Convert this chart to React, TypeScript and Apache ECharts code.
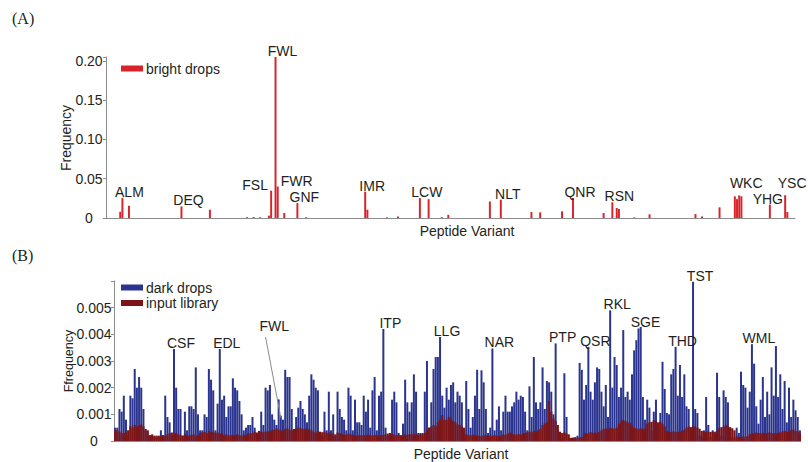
import React, { useEffect, useRef } from "react";
import * as echarts from "echarts";

// ---------- Panel A: bright drops (sparse) ----------
const N_VARIANTS = 315;
// category index of each non-zero bar, and its frequency
const brightIdx = [6, 7, 10, 34, 47, 64, 67, 70, 74, 75, 77, 78, 81, 87, 91, 118, 119, 128, 133, 143, 147, 153, 156, 175, 180, 194, 198, 208, 213, 227, 231, 233, 234, 241, 248, 269, 272, 280, 287, 288, 289, 290, 303, 310, 311];
const brightVal = [0.008, 0.0254, 0.0157, 0.0148, 0.0106, 0.001, 0.0012, 0.001, 0.003, 0.0348, 0.205, 0.04, 0.0064, 0.019, 0.001, 0.0335, 0.0106, 0.0008, 0.002, 0.0254, 0.024, 0.001, 0.004, 0.021, 0.0233, 0.0076, 0.0072, 0.0085, 0.0254, 0.0064, 0.02, 0.0127, 0.0115, 0.0008, 0.0047, 0.005, 0.002, 0.0136, 0.0276, 0.024, 0.0288, 0.0276, 0.017, 0.029, 0.0076];
const labelsA: [string, number][] = [
  ["ALM", 7], ["DEQ", 34], ["FSL", 75], ["FWL", 77], ["FWR", 78], ["GNF", 87], ["IMR", 118],
  ["LCW", 143], ["NLT", 180], ["QNR", 213], ["RSN", 231], ["WKC", 289], ["YHG", 303], ["YSC", 310],
];

// ---------- Panel B: dark drops / input library (values x 1e-4) ----------
const darkDrops_e4 = [
  5, 5, 12, 11, 17, 8, 2, 17, 16, 27, 20, 24, 20, 12, 4, 2, 1.5, 2, 1.5, 1.5, 2, 4, 2, 17, 9, 7, 2, 34.5, 20, 12, 12, 2, 11, 4, 13, 13, 12, 27.6, 10, 4, 4, 10, 9, 27, 23, 19, 4, 14, 34.5, 15.5, 17, 9, 13, 13, 23.5, 20, 19, 15, 10, 4, 5, 6,
  6, 9, 5, 2.5, 2, 11, 6, 20, 19, 21, 10, 8, 6, 15.6, 9.5, 8, 26.7, 24, 24, 12, 3, 9, 12.5, 15, 12, 10, 7, 17, 25, 23, 20, 19, 3, 2, 11, 4, 18.5, 4, 10, 2, 18.5, 12, 9, 8, 4, 20, 17, 4, 15.5, 7, 7, 6, 17, 11, 15.5, 5, 19, 24, 4, 17, 18.5, 42,
  5, 2, 2, 15.5, 18.5, 14.5, 3, 2, 6.5, 23, 14.5, 11, 14.5, 25, 18.5, 3, 3, 3, 18.5, 30, 5, 14.5, 27, 31.5, 31.5, 39, 17, 12.5, 20, 15.5, 21, 22, 14.5, 18.5, 17, 14.5, 4, 22.5, 12, 5, 9, 17, 26.7, 12, 26.5, 22, 12, 3, 5, 34.7, 4, 8, 13, 4, 11, 17, 11, 11, 13, 14.5, 18.5, 15.5,
  17, 16.5, 11, 4, 20.5, 9, 31.5, 14.5, 12, 14.5, 27.6, 12, 22.5, 22, 18.5, 10, 36.6, 4, 1, 1, 25.4, 9, 1, 1, 1, 1.5, 2, 29.3, 26.7, 15.5, 21, 35.3, 18.5, 15.5, 22, 27.6, 27, 18.5, 13, 21, 9, 49, 20, 31.5, 28.5, 16.5, 20, 41.6, 16.5, 18.5, 15.5, 25, 34, 37.8, 42.2, 42.8, 16.5, 8, 15.5, 12.5, 4, 11, 15.5, 6.5,
  10.5, 29.7, 19.5, 10.5, 10, 25, 27, 35.3, 17, 28.5, 16.5, 25, 13, 12, 4, 59.7, 12, 10.5, 2, 1.5, 4, 16.5, 6, 1.5, 4, 3.5, 25.6, 16.5, 2, 19, 16.5, 14.5, 4, 1.5, 1, 5, 3, 26, 21, 20, 12.5, 18.5, 36.3, 29, 13, 6.5, 15.5, 24, 9, 18.5, 10, 27.6, 17, 35.6, 16.5, 25, 12, 22.5, 7, 20, 9, 15.5, 11.5, 9, 4,
];
const inputLibrary_e4 = [
  4, 4, 3.5, 3, 3, 3.5, 4, 5.5, 5, 6, 5.5, 5.8, 6.2, 5.5, 4.5, 4, 2.2, 2.5, 2, 2, 1.8, 2, 2.2, 2, 2.5, 3, 3.2, 2.8, 3, 2.5,
  2.2, 2, 2.5, 2.2, 2, 2.3, 2.5, 2, 2.2, 3, 3.2, 3.5, 3, 3.7, 3.2, 3.5, 3, 3.2, 2.8, 3, 2.2, 2.5, 2, 2.2, 2.3, 2, 2.5, 2.2, 2, 2.4, 2.2,
  3, 2.8, 3, 3.5, 3.2, 3.8, 3.5, 3.3, 3.6, 3.5, 3.8, 4, 4.2, 4.7, 4.3, 4, 3.8, 4.5, 4.7, 4.2, 4, 4.5, 4.7, 5.1, 4.8, 4.5, 4.7, 4.2, 4.5, 4,
  3.5, 3.2, 3.8, 3.5, 3.3, 3.5, 3, 3.2, 2.5, 2.8, 2.5, 3.2, 3, 2.6, 2.5, 2.2, 2.8, 2.5, 2.3, 2.2, 2, 2.3, 2.1, 2.2, 2, 2.4, 2.2, 2, 2.3, 2.1, 2.2,
  2.2, 2.3, 2.5, 2.8, 3, 2.6, 2.3, 2.2, 2.4, 2.2, 2, 2.5, 2.3, 2.6, 2.4, 2.8, 2.5, 2.3, 2.6, 2.5, 3, 4, 5, 5.4, 6, 5.5, 7, 8, 9.7,
  8, 7.9, 9.1, 8.5, 7.5, 7, 6.2, 6, 5.5, 5, 2.5, 2.2, 2, 2.4, 2.2, 2, 2, 1.8, 2.2, 2, 2.1, 1.9, 2, 2.2, 2, 1.8, 2,
  2.5, 2.3, 2.8, 3.2, 2.7, 2.5, 2.4, 2.6, 2.5, 2.8, 3, 3.2, 3.5, 3.3, 3.8, 3.6, 4, 4.5, 6, 6.6, 7, 15, 11, 8.5, 7.5, 6,
  3.5, 3, 3.2, 2.8, 2.5, 1.2, 1.3, 1.2, 1.1, 1.4, 1.5, 2.5, 3, 2.8, 3.3, 3, 3.2, 3, 3.4, 4, 4.5, 4.7, 4.3, 5, 4.8, 4.6, 5,
  6.5, 7.2, 7.9, 7.5, 7, 6.8, 6, 5, 4.7, 4.5, 4.8, 4.4, 4.7, 6.5, 7, 7.2, 7.8, 7.5, 7, 7.2, 6.5, 5.5,
  3.8, 3.5, 3.3, 3.6, 3.4, 3.5, 3.2, 3.8, 4.2, 5, 5.4, 5.2, 5.6, 5.4, 5, 4.6, 3.8, 3.5, 3.3, 3.6, 3.4, 3.5, 3.2, 3.8,
  4.8, 5.2, 5.4, 6, 5.6, 5.2, 4.8, 4, 1.8, 1.6, 1.5, 1.7, 1.6, 1.8,
  2.6, 3, 2.8, 3.2, 3, 2.9, 3.1, 2.8, 3, 3.2, 2.9, 3, 2.8, 3.1, 3.2, 3.5, 3.8, 3.4, 3.6, 4, 4.3, 3.8, 3.5, 3,
];
const labelsB: [string, number][] = [
  ["CSF", 27], ["EDL", 48], ["ITP", 123], ["LLG", 149], ["NAR", 173], ["PTP", 202], ["QSR", 217],
  ["RKL", 227], ["SGE", 240], ["THD", 257], ["TST", 265], ["WML", 292],
];
// FWL annotation in panel B (arrow from text to bar)
const fwlArrowFrom: [number, number] = [69, 0.0039];
const fwlArrowTo: [number, number] = [76, 0.00087];
const fwlTextAt: [number, number] = [73, 0.0043];

const UNIT = 1e-4;
const FONT = "'Liberation Sans', Arial, sans-serif";
const TXT = "#231f20";
const AX = "#8c8c8c";
const RED = "#d9232a";
const BLUE = "#2b3590";
const DARKRED = "#7b1518";
const labelShiftA: Record<string, [number, number]> = {
  FSL: [-16, 1], FWR: [19, 1], YHG: [-2, 1], WKC: [7, -5], YSC: [7, -5],
};

export default function App() {
  const ref = useRef<HTMLDivElement>(null);
  useEffect(() => {
    if (!ref.current) return;
    const chart = echarts.init(ref.current, undefined, { renderer: "svg" });
    const cats = Array.from({ length: N_VARIANTS }, (_, i) => String(i));

    const lblMapA = new Map(labelsA.map(([n, i]) => [i, n]));
    const brightMap = new Map(brightIdx.map((i, k) => [i, brightVal[k]]));
    const brightData = cats.map((_, i) => {
      const v = brightMap.get(i) ?? 0;
      const name = lblMapA.get(i);
      if (!name) return v;
      return {
        value: v,
        label: {
          show: true,
          formatter: name,
          position: "top",
          distance: 0,
          offset: labelShiftA[name] ?? [7, 1],
        },
      };
    });

    const lblMapB = new Map(labelsB.map(([n, i]) => [i, n]));
    const darkData = darkDrops_e4.map((v, i) => {
      const val = +(v * UNIT).toFixed(7);
      const name = lblMapB.get(i);
      if (!name) return val;
      return {
        value: val,
        label: { show: true, formatter: name, position: "top", distance: 0, offset: [7, 1] },
      };
    });
    const inputData = inputLibrary_e4.slice(0, darkDrops_e4.length).map((v) => +(v * UNIT).toFixed(7));

    const labelFont = { fontFamily: FONT, fontSize: 14, color: TXT };

    const yAxisCommon = {
      type: "value" as const,
      axisLine: { show: true, lineStyle: { color: AX, width: 1 } },
      axisTick: { show: true, length: 3, lineStyle: { color: AX } },
      splitLine: { show: false },
    };

    chart.setOption({
      animation: false,
      grid: [
        { left: 106, top: 57, width: 689, height: 161 },
        { left: 114, top: 281, width: 687, height: 160 },
      ],
      legend: [
        {
          data: ["bright drops"],
          left: 121,
          top: 61.5,
          orient: "vertical",
          icon: "rect",
          itemWidth: 22,
          itemHeight: 6,
          itemGap: 0,
          padding: 0,
          textStyle: { ...labelFont, padding: [0, 0, 0, -2], lineHeight: 14 },
        },
        {
          data: ["dark drops", "input library"],
          left: 121,
          top: 280.5,
          orient: "vertical",
          icon: "rect",
          itemWidth: 22,
          itemHeight: 6,
          itemGap: 1.5,
          padding: 0,
          textStyle: { ...labelFont, padding: [0, 0, 0, -2], lineHeight: 14 },
        },
      ],
      xAxis: [
        {
          type: "category", gridIndex: 0, data: cats,
          axisLine: { lineStyle: { color: AX } }, axisTick: { show: false }, axisLabel: { show: false },
        },
        {
          type: "category", gridIndex: 1, data: cats.slice(0, darkDrops_e4.length),
          axisLine: { lineStyle: { color: AX } }, axisTick: { show: false }, axisLabel: { show: false },
        },
        {
          type: "category", gridIndex: 1, data: cats.slice(0, darkDrops_e4.length), show: false,
        },
      ],
      yAxis: [
        {
          ...yAxisCommon,
          gridIndex: 0,
          min: 0,
          max: 0.205,
          interval: 0.05,
          axisLabel: {
            ...labelFont,
            align: "center",
            margin: 17,
            formatter: (v: number) => (v > 0.2001 ? "" : v === 0 ? "0" : v.toFixed(2)),
          },
        },
        {
          ...yAxisCommon,
          gridIndex: 1,
          min: 0,
          max: 0.006,
          interval: 0.001,
          axisLabel: {
            ...labelFont,
            align: "center",
            margin: 20,
            formatter: (v: number) => (v > 0.00501 ? "" : v === 0 ? "0" : v.toFixed(3)),
          },
        },
      ],
      series: [
        {
          name: "bright drops",
          type: "bar",
          xAxisIndex: 0,
          yAxisIndex: 0,
          data: brightData,
          barCategoryGap: "10%",
          itemStyle: { color: RED },
          label: { ...labelFont },
        },
        {
          name: "dark drops",
          type: "bar",
          xAxisIndex: 1,
          yAxisIndex: 1,
          data: darkData,
          barCategoryGap: "8%",
          itemStyle: { color: BLUE },
          label: { ...labelFont },
          markLine: {
            silent: true,
            symbol: ["none", "arrow"],
            symbolSize: [0, 7],
            label: { show: false },
            lineStyle: { color: "#8a8a8a", width: 1, type: "solid" },
            data: [[{ coord: fwlArrowFrom }, { coord: fwlArrowTo }]],
          },
          markPoint: {
            silent: true,
            data: [
              {
                coord: fwlTextAt,
                symbol: "circle",
                symbolSize: 0,
                label: { show: true, formatter: "FWL", position: "inside", ...labelFont },
              },
            ],
          },
        },
        {
          name: "input library",
          type: "bar",
          xAxisIndex: 2,
          yAxisIndex: 1,
          data: inputData,
          barCategoryGap: "0%",
          itemStyle: { color: DARKRED },
        },
      ],
      graphic: [
        { type: "text", left: 12, top: 10, style: { text: "(A)", font: "16px 'Liberation Serif', 'Times New Roman', serif", fill: TXT } },
        { type: "text", left: 12, top: 247, style: { text: "(B)", font: "16px 'Liberation Serif', 'Times New Roman', serif", fill: TXT } },
        { type: "text", x: 66, y: 138, rotation: Math.PI / 2, style: { text: "Frequency", font: `14px ${FONT}`, fill: TXT, align: "center", verticalAlign: "middle" } },
        { type: "text", x: 69, y: 361, rotation: Math.PI / 2, style: { text: "Ffrequency", font: `12.5px ${FONT}`, fill: TXT, align: "center", verticalAlign: "middle" } },
        { type: "text", x: 467, y: 231, style: { text: "Peptide Variant", font: `14px ${FONT}`, fill: TXT, align: "center", verticalAlign: "middle" } },
        { type: "text", x: 461, y: 454, style: { text: "Peptide Variant", font: `14px ${FONT}`, fill: TXT, align: "center", verticalAlign: "middle" } },
      ],
    });
    return () => chart.dispose();
  }, []);
  return (
    <div
      ref={ref}
      style={{ position: "fixed", left: 0, top: 0, width: 808, height: 462, background: "#fff" }}
    />
  );
}
